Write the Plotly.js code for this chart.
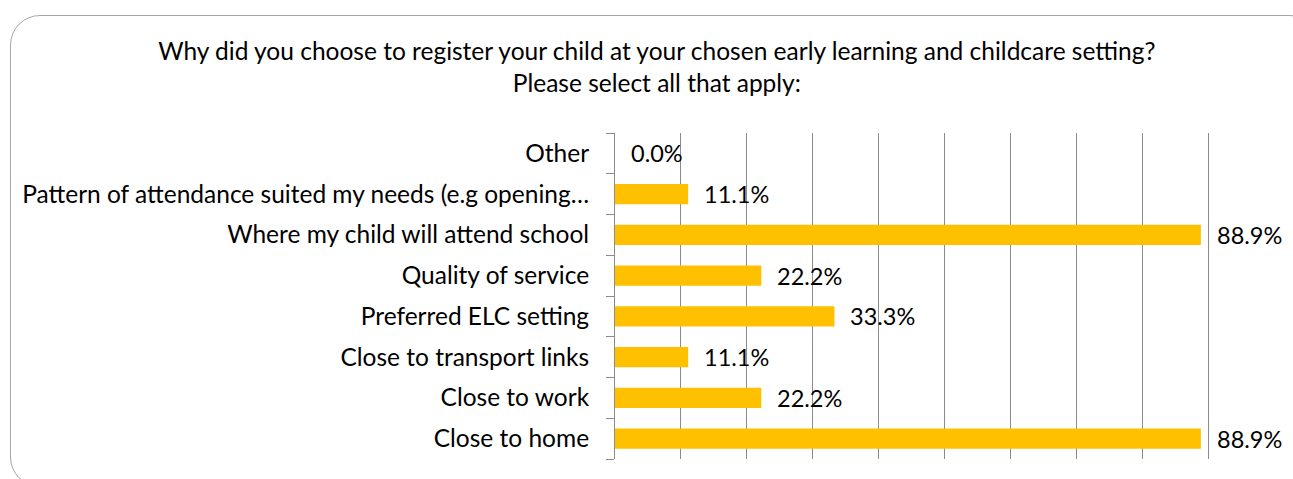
<!DOCTYPE html>
<html>
<head>
<meta charset="utf-8">
<script src="https://cdn.plot.ly/plotly-3.0.1.min.js"></script>
<style>
  html, body { margin: 0; padding: 0; background: #fff; overflow: hidden; }
  #frame {
    position: absolute; left: 10px; top: 15px; width: 1310px; height: 472px;
    border: 1.5px solid #a6a6a6; border-radius: 30px; box-sizing: border-box;
  }
  #grafica { position: absolute; left: 0; top: 0; width: 1293px; height: 479px; }
</style>
</head>
<body>
<div id="frame"></div>
<div id="grafica"></div>
<script>
// categories listed bottom to top, as the chart shows them
const motivos = [
  'Close to home',
  'Close to work',
  'Close to transport links',
  'Preferred ELC setting',
  'Quality of service',
  'Where my child will attend school',
  'Pattern of attendance suited my needs (e.g opening…',
  'Other'
];
const porcentajes = [88.9, 22.2, 11.1, 33.3, 22.2, 88.9, 11.1, 0.0];

const tituloLineas = [
  'Why did you choose to register your child at your chosen early learning and childcare setting?',
  'Please select all that apply:'
];

const fuente = 'Lato, "Open Sans", sans-serif';

const barras = {
  type: 'bar',
  orientation: 'h',
  x: porcentajes,
  y: motivos,
  marker: { color: '#FFC000' },
  hoverinfo: 'none'
};

const etiquetas = porcentajes.map((v, i) => ({
  x: v,
  y: motivos[i],
  xref: 'x',
  yref: 'y',
  text: v.toFixed(1) + '%',
  showarrow: false,
  xanchor: 'left',
  xshift: 14,
  font: { family: fuente, size: 23.5, color: '#000' }
}));

const layout = {
  width: 1293,
  height: 479,
  paper_bgcolor: 'rgba(0,0,0,0)',
  plot_bgcolor: 'rgba(0,0,0,0)',
  margin: { l: 615, r: 19, t: 133, b: 20 },
  bargap: 0.5,
  showlegend: false,
  title: {
    text: tituloLineas.join('<br>'),
    font: { family: fuente, size: 24.5, color: '#000' },
    x: 0.508,
    xanchor: 'center',
    yref: 'container',
    y: 0.875,
    yanchor: 'top'
  },
  xaxis: {
    range: [0, 100],
    dtick: 10,
    showticklabels: false,
    showgrid: true,
    gridcolor: '#8c8c8c',
    gridwidth: 1,
    zeroline: false,
    showline: false,
    fixedrange: true
  },
  yaxis: {
    type: 'category',
    categoryorder: 'array',
    categoryarray: motivos,
    showline: true,
    linecolor: '#8c8c8c',
    linewidth: 1,
    ticks: 'outside',
    tickson: 'boundaries',
    ticklen: 8,
    tickcolor: '#8c8c8c',
    ticklabelstandoff: 20,
    tickfont: { family: fuente, size: 24.5, color: '#000' },
    showgrid: false,
    fixedrange: true
  },
  annotations: etiquetas
};

Plotly.newPlot('grafica', [barras], layout, { displayModeBar: false, staticPlot: true });
</script>
</body>
</html>
